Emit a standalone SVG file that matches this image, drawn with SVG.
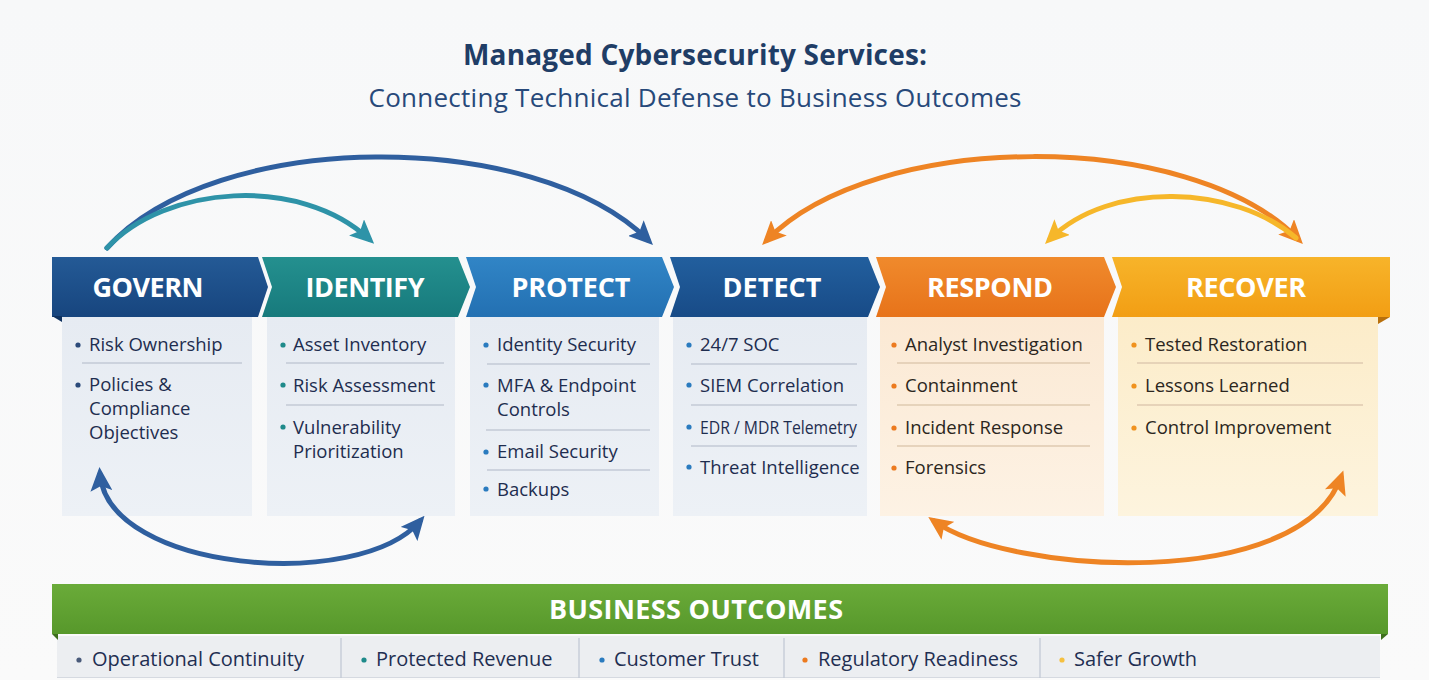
<svg xmlns="http://www.w3.org/2000/svg" width="1429" height="680" viewBox="0 0 1429 680">
<defs>
<style>
.title{font-family:"Open Sans","Liberation Sans",sans-serif;font-weight:700;font-size:28px;fill:#1f3d66;text-anchor:middle}
.sub{font-family:"Open Sans","Liberation Sans",sans-serif;font-weight:400;font-size:26px;fill:#27497a;text-anchor:middle}
.hd{font-family:"Open Sans","Liberation Sans",sans-serif;font-weight:700;font-size:27px;fill:#ffffff;text-anchor:middle}
.it{font-family:"Open Sans","Liberation Sans",sans-serif;font-size:18.5px;fill:#1e2d4f}
.itw{font-family:"Open Sans","Liberation Sans",sans-serif;font-size:18.5px;fill:#2b2620}
.ot{font-family:"Open Sans","Liberation Sans",sans-serif;font-size:20px;fill:#1f2f52}
.dv{stroke:#c3cad6;stroke-width:1.3}
.dvw{stroke:#dfcab0;stroke-width:1.3}
.arr{fill:none;stroke-width:5;stroke-linecap:round}
</style>
<linearGradient id="bg" x1="0" y1="0" x2="0" y2="1"><stop offset="0" stop-color="#f7f8f9"/><stop offset="1" stop-color="#fafafa"/></linearGradient>
<linearGradient id="gGov" x1="0" y1="0" x2="0" y2="1"><stop offset="0" stop-color="#245a96"/><stop offset="1" stop-color="#17457e"/></linearGradient>
<linearGradient id="gIde" x1="0" y1="0" x2="0" y2="1"><stop offset="0" stop-color="#24908f"/><stop offset="1" stop-color="#177a7c"/></linearGradient>
<linearGradient id="gPro" x1="0" y1="0" x2="0" y2="1"><stop offset="0" stop-color="#3185c6"/><stop offset="1" stop-color="#2370b2"/></linearGradient>
<linearGradient id="gDet" x1="0" y1="0" x2="0" y2="1"><stop offset="0" stop-color="#225f9e"/><stop offset="1" stop-color="#184b87"/></linearGradient>
<linearGradient id="gRes" x1="0" y1="0" x2="0" y2="1"><stop offset="0" stop-color="#f08a2c"/><stop offset="1" stop-color="#e7731a"/></linearGradient>
<linearGradient id="gRec" x1="0" y1="0" x2="0" y2="1"><stop offset="0" stop-color="#f7b42a"/><stop offset="1" stop-color="#f29e14"/></linearGradient>
<linearGradient id="gGrn" x1="0" y1="0" x2="0" y2="1"><stop offset="0" stop-color="#6aab39"/><stop offset="1" stop-color="#57982b"/></linearGradient>
<linearGradient id="pBlue" x1="0" y1="0" x2="0" y2="1"><stop offset="0" stop-color="#e6ebf2"/><stop offset="1" stop-color="#edf1f6"/></linearGradient>
<linearGradient id="pOra" x1="0" y1="0" x2="0" y2="1"><stop offset="0" stop-color="#fbe9d4"/><stop offset="1" stop-color="#fdf2e4"/></linearGradient>
<linearGradient id="pYel" x1="0" y1="0" x2="0" y2="1"><stop offset="0" stop-color="#fcecc9"/><stop offset="1" stop-color="#fdf4de"/></linearGradient>
<marker id="mBlue" viewBox="0 0 24 22" markerWidth="24" markerHeight="22" refX="17" refY="11" orient="auto-start-reverse" markerUnits="userSpaceOnUse"><path d="M0,0 L24,11 L0,22 L5,11 z" fill="#2f5f9f"/></marker>
<marker id="mTeal" viewBox="0 0 24 22" markerWidth="24" markerHeight="22" refX="17" refY="11" orient="auto-start-reverse" markerUnits="userSpaceOnUse"><path d="M0,0 L24,11 L0,22 L5,11 z" fill="#2e93a8"/></marker>
<marker id="mOra" viewBox="0 0 24 22" markerWidth="24" markerHeight="22" refX="17" refY="11" orient="auto-start-reverse" markerUnits="userSpaceOnUse"><path d="M0,0 L24,11 L0,22 L5,11 z" fill="#ee8424"/></marker>
<marker id="mYel" viewBox="0 0 24 22" markerWidth="24" markerHeight="22" refX="17" refY="11" orient="auto-start-reverse" markerUnits="userSpaceOnUse"><path d="M0,0 L24,11 L0,22 L5,11 z" fill="#f6b72a"/></marker>
</defs>
<rect x="0" y="0" width="1429" height="680" fill="url(#bg)"/>

<g id="title">
<text class="title" x="695" y="65" textLength="464">Managed Cybersecurity Services:</text>
<text class="sub" x="695" y="107" textLength="653">Connecting Technical Defense to Business Outcomes</text>
</g>

<g id="node-govern">
<rect x="62" y="316" width="190" height="200" fill="url(#pBlue)"/>
<path d="M52,257 L258,257 L268,287 L258,317 L52,317 z" fill="url(#gGov)"/>
<path d="M52,316 L62,316 L62,322 z" fill="#0f3260"/>
<text class="hd" x="148" y="297" textLength="111">GOVERN</text>
<circle cx="78" cy="345" r="2.6" fill="#2b4a7a"/>
<text class="it" x="89" y="351">Risk Ownership</text>
<line class="dv" x1="82" y1="363" x2="242" y2="363"/>
<circle cx="78" cy="385" r="2.6" fill="#2b4a7a"/>
<text class="it" x="89" y="391">Policies &amp;</text>
<text class="it" x="89" y="415">Compliance</text>
<text class="it" x="89" y="439">Objectives</text>
</g>

<g id="node-identify">
<rect x="267" y="316" width="188" height="200" fill="url(#pBlue)"/>
<path d="M262,257 L458,257 L470,287 L458,317 L262,317 L272,287 z" fill="url(#gIde)"/>
<text class="hd" x="365" y="297" textLength="119">IDENTIFY</text>
<circle cx="283" cy="345" r="2.6" fill="#1e8a8a"/>
<text class="it" x="293" y="351">Asset Inventory</text>
<line class="dv" x1="286" y1="363" x2="444" y2="363"/>
<circle cx="283" cy="385" r="2.6" fill="#1e8a8a"/>
<text class="it" x="293" y="392">Risk Assessment</text>
<line class="dv" x1="286" y1="405" x2="444" y2="405"/>
<circle cx="283" cy="427" r="2.6" fill="#1e8a8a"/>
<text class="it" x="293" y="434">Vulnerability</text>
<text class="it" x="293" y="458">Prioritization</text>
</g>

<g id="node-protect">
<rect x="470" y="316" width="189" height="200" fill="url(#pBlue)"/>
<path d="M466,257 L662,257 L674,287 L662,317 L466,317 L476,287 z" fill="url(#gPro)"/>
<text class="hd" x="571" y="297" textLength="119">PROTECT</text>
<circle cx="486" cy="345" r="2.6" fill="#2a7bbf"/>
<text class="it" x="497" y="351">Identity Security</text>
<line class="dv" x1="487" y1="364" x2="650" y2="364"/>
<circle cx="486" cy="385" r="2.6" fill="#2a7bbf"/>
<text class="it" x="497" y="392">MFA &amp; Endpoint</text>
<text class="it" x="497" y="416">Controls</text>
<line class="dv" x1="486" y1="430" x2="650" y2="430"/>
<circle cx="486" cy="452" r="2.6" fill="#2a7bbf"/>
<text class="it" x="497" y="458">Email Security</text>
<line class="dv" x1="487" y1="470" x2="650" y2="470"/>
<circle cx="486" cy="489" r="2.6" fill="#2a7bbf"/>
<text class="it" x="497" y="496">Backups</text>
</g>

<g id="node-detect">
<rect x="673" y="316" width="194" height="200" fill="url(#pBlue)"/>
<path d="M670,257 L868,257 L880,287 L868,317 L670,317 L680,287 z" fill="url(#gDet)"/>
<text class="hd" x="772" y="297" textLength="99">DETECT</text>
<circle cx="689" cy="345" r="2.6" fill="#2a7bbf"/>
<text class="it" x="700" y="351">24/7 SOC</text>
<line class="dv" x1="691" y1="364" x2="857" y2="364"/>
<circle cx="689" cy="385" r="2.6" fill="#2a7bbf"/>
<text class="it" x="700" y="392">SIEM Correlation</text>
<line class="dv" x1="691" y1="405" x2="857" y2="405"/>
<circle cx="689" cy="427" r="2.6" fill="#2a7bbf"/>
<text class="it" x="700" y="434" textLength="157" lengthAdjust="spacingAndGlyphs">EDR / MDR Telemetry</text>
<line class="dv" x1="691" y1="446" x2="857" y2="446"/>
<circle cx="689" cy="467" r="2.6" fill="#2a7bbf"/>
<text class="it" x="700" y="474">Threat Intelligence</text>
</g>

<g id="node-respond">
<rect x="880" y="316" width="224" height="200" fill="url(#pOra)"/>
<path d="M876,257 L1104,257 L1116,287 L1104,317 L876,317 L886,287 z" fill="url(#gRes)"/>
<text class="hd" x="990" y="297" textLength="126">RESPOND</text>
<circle cx="894" cy="345" r="2.6" fill="#ec7a1f"/>
<text class="itw" x="905" y="351">Analyst Investigation</text>
<line class="dvw" x1="897" y1="363" x2="1090" y2="363"/>
<circle cx="894" cy="386" r="2.6" fill="#ec7a1f"/>
<text class="itw" x="905" y="392">Containment</text>
<line class="dvw" x1="897" y1="405" x2="1090" y2="405"/>
<circle cx="894" cy="428" r="2.6" fill="#ec7a1f"/>
<text class="itw" x="905" y="434">Incident Response</text>
<line class="dvw" x1="897" y1="446" x2="1090" y2="446"/>
<circle cx="894" cy="468" r="2.6" fill="#ec7a1f"/>
<text class="itw" x="905" y="474">Forensics</text>
</g>

<g id="node-recover">
<rect x="1118" y="316" width="260" height="200" fill="url(#pYel)"/>
<path d="M1112,257 L1390,257 L1390,317 L1112,317 L1122,287 z" fill="url(#gRec)"/>
<path d="M1378,317 L1390,317 L1378,324 z" fill="#b8700c"/>
<text class="hd" x="1246" y="297" textLength="120">RECOVER</text>
<circle cx="1134" cy="345" r="2.6" fill="#f0921e"/>
<text class="itw" x="1145" y="351">Tested Restoration</text>
<line class="dvw" x1="1137" y1="363" x2="1363" y2="363"/>
<circle cx="1134" cy="386" r="2.6" fill="#f0921e"/>
<text class="itw" x="1145" y="392">Lessons Learned</text>
<line class="dvw" x1="1137" y1="405" x2="1363" y2="405"/>
<circle cx="1134" cy="428" r="2.6" fill="#f0921e"/>
<text class="itw" x="1145" y="434">Control Improvement</text>
</g>

<g id="connectors">
<path class="arr" stroke="#2f5f9f" d="M107,248 C 215,128 535,128 648,240" marker-end="url(#mBlue)"/>
<path class="arr" stroke="#2e93a8" d="M107,248 C 165,185 300,175 369,239" marker-end="url(#mTeal)"/>
<path class="arr" stroke="#ee8424" d="M767,240 C 875,130 1190,128 1298,239" marker-start="url(#mOra)" marker-end="url(#mOra)"/>
<path class="arr" stroke="#f6b72a" d="M1296,238 C 1235,185 1110,180 1050,239" marker-end="url(#mYel)"/>
<path class="arr" stroke="#2f5f9f" d="M100,474 C 108,572 360,592 420,521" marker-start="url(#mBlue)" marker-end="url(#mBlue)"/>
<path class="arr" stroke="#ee8424" d="M934,521 C 1010,575 1300,592 1341,477" marker-start="url(#mOra)" marker-end="url(#mOra)"/>
</g>

<g id="node-outcomes">
<rect x="57" y="636" width="1323" height="42" fill="#eceef1"/>
<line x1="57" y1="677.5" x2="1380" y2="677.5" stroke="#d5d9e0" stroke-width="1"/>
<path d="M52,584 L1388,584 L1388,634 L52,634 z" fill="url(#gGrn)"/>
<path d="M52,634 L58,634 L58,640 z" fill="#3d6e1c"/>
<path d="M1381,634 L1388,634 L1381,640 z" fill="#3d6e1c"/>
<text class="hd" x="696" y="619" font-size="26" textLength="294">BUSINESS OUTCOMES</text>
<line class="dv" x1="341" y1="638" x2="341" y2="678"/>
<line class="dv" x1="579" y1="638" x2="579" y2="678"/>
<line class="dv" x1="784" y1="638" x2="784" y2="678"/>
<line class="dv" x1="1040" y1="638" x2="1040" y2="678"/>
<circle cx="79" cy="660" r="2.6" fill="#4a5a7a"/>
<text class="ot" x="92" y="666">Operational Continuity</text>
<circle cx="364" cy="660" r="2.6" fill="#1e8a8a"/>
<text class="ot" x="376" y="666">Protected Revenue</text>
<circle cx="602" cy="660" r="2.6" fill="#2a7bbf"/>
<text class="ot" x="614" y="666">Customer Trust</text>
<circle cx="805" cy="660" r="2.6" fill="#ec7a1f"/>
<text class="ot" x="818" y="666">Regulatory Readiness</text>
<circle cx="1062" cy="660" r="2.6" fill="#f5c040"/>
<text class="ot" x="1074" y="666">Safer Growth</text>
</g>
</svg>
